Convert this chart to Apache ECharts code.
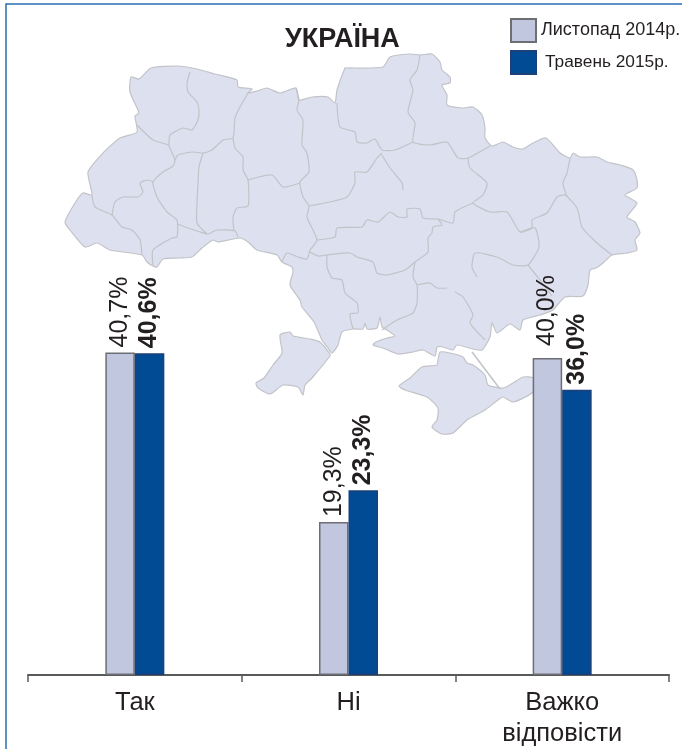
<!DOCTYPE html>
<html>
<head>
<meta charset="utf-8">
<style>
  html, body { margin: 0; padding: 0; background: #fff; }
  #chart { width: 682px; height: 749px; }
</style>
<script src="https://cdn.jsdelivr.net/npm/echarts@6/dist/echarts.min.js"></script>
</head>
<body>
<div id="chart"></div>
<script>
var categories = ['Так', 'Ні', 'Важко\nвідповісти'];
var nov2014 = [40.7, 19.3, 40.0];
var may2015 = [40.6, 23.3, 36.0];
var seriesNames = ['Листопад 2014р.', 'Травень 2015р.'];

// background map of Ukraine (page pixels)
var mapOutline = [[65,222],[75,203],[83,193],[92,195],[88,172],[103,153],[120,138],[137,132],[135,116],[139,113],[130,92],[131,77],[139,79],[151,68],[177,66],[197,69],[215,74],[237,80],[238,87],[252,89],[248,93],[257,91],[267,88],[280,93],[296,88],[299,100],[312,97],[328,97],[335,103],[337,90],[345,68],[347,68],[383,67],[390,57],[410,54],[420,55],[432,54],[440,62],[442,70],[450,77],[450,83],[442,85],[447,95],[447,105],[462,108],[473,107],[482,115],[485,128],[485,138],[492,146],[503,142],[513,147],[523,149],[533,143],[546,138],[560,153],[570,158],[573,153],[580,157],[597,157],[607,162],[620,165],[633,170],[637,180],[637,188],[625,195],[637,203],[627,217],[635,222],[640,233],[635,240],[637,250],[627,253],[612,255],[603,263],[596,268],[590,270],[588,285],[583,296],[565,297],[553,310],[540,315],[523,320],[520,330],[510,324],[497,333],[492,323],[490,337],[482,350],[473,349],[457,345],[453,350],[443,347],[437,347],[435,356],[423,350],[413,352],[398,354],[383,348],[373,345],[376,342],[387,338],[395,336],[387,330],[382,327],[380,317],[377,328],[367,329],[365,323],[363,329],[353,329],[342,332],[338,345],[332,353],[328,348],[322,340],[314,322],[302,307],[300,300],[290,285],[293,272],[292,267],[282,262],[277,255],[257,250],[248,242],[240,238],[218,242],[213,240],[202,248],[192,257],[180,258],[163,259],[157,267],[153,266],[147,262],[142,255],[110,250],[97,243],[85,247],[70,230]];
var mapBudjak = [[330,354],[320,342],[310,339],[293,336],[290,332],[280,335],[282,353],[273,365],[264,378],[256,383],[258,388],[270,394],[283,385],[298,387],[303,395],[305,385],[312,378],[330,356]];
var mapCrimea = [[438,360],[437,365],[422,367],[410,378],[399,386],[405,390],[427,397],[438,408],[437,420],[432,427],[442,434],[453,433],[467,420],[485,410],[498,400],[503,397],[513,402],[533,392],[533,378],[523,377],[513,383],[503,388],[488,385],[485,375],[473,365],[467,363],[463,357],[450,353],[440,352]];
var mapSpit = [[472,352],[500,389]];
var mapBorders = [
  [[137,125],[153,140],[168,145],[172,153],[175,160],[173,166],[163,172],[153,182],[157,197],[167,212],[177,220],[177,237],[172,238],[153,250],[153,265]],
  [[190,72],[187,83],[188,92],[197,102],[199,110],[198,120],[192,130],[183,128],[170,135],[169,145]],
  [[248,93],[240,107],[235,118],[233,138],[223,140],[212,150],[203,153],[193,152],[178,155],[175,160]],
  [[203,153],[199,167],[198,183],[197,203],[197,223],[207,234]],
  [[233,138],[235,148],[243,157],[243,170],[248,180],[248,206],[237,208],[233,217],[234,231]],
  [[177,224],[200,232],[208,234],[217,230],[235,231],[238,237]],
  [[92,195],[95,207],[112,215],[122,227],[132,230],[140,240],[142,255]],
  [[112,215],[115,202],[123,197],[138,197],[143,192],[140,183],[148,180],[153,182]],
  [[296,88],[299,100],[297,110],[303,120],[302,145],[307,153],[309,172],[300,182],[303,197],[309,206],[307,217],[317,240],[310,250],[307,259],[298,257],[287,253],[282,262]],
  [[248,180],[272,175],[283,187],[300,183]],
  [[309,206],[330,202],[347,197],[355,183],[355,172],[367,172],[377,158],[382,153]],
  [[337,103],[340,127],[355,132],[357,142],[367,143],[375,139],[382,150],[395,150],[413,142]],
  [[420,55],[417,70],[410,80],[413,90],[408,112],[415,123],[413,142],[430,145],[447,142],[458,158],[468,158],[490,146]],
  [[468,158],[470,168],[487,183],[483,195],[473,203],[490,212],[507,212],[520,232],[532,228],[532,220],[547,213],[557,197],[565,195],[577,208],[582,227],[597,243],[612,255]],
  [[570,158],[567,173],[563,183],[567,197]],
  [[382,155],[390,168],[402,183],[403,190]],
  [[317,240],[335,237],[337,228],[362,227],[367,220],[378,222],[390,212],[398,217],[407,217],[407,209],[420,209],[423,218],[438,219],[453,223],[455,212],[473,203]],
  [[438,219],[442,225],[433,227],[432,233],[428,238],[428,252],[415,262],[405,270],[387,275],[377,273],[373,262],[357,257],[350,253],[327,255],[318,256],[310,252]],
  [[327,255],[327,267],[332,278],[342,280],[345,293],[357,303],[358,313],[350,314],[353,329]],
  [[415,262],[413,277],[417,285],[417,303],[413,313],[397,320],[382,330]],
  [[417,285],[430,283],[437,288],[447,288]],
  [[455,292],[463,297],[473,315],[470,323],[485,340]],
  [[520,232],[535,228],[539,247],[528,265],[513,265],[497,257],[475,253],[472,267],[477,277]],
  [[528,265],[540,280],[552,296]]
];

var TEXT = '#231f20';
var LIGHT = '#c2c7e0';
var DARK = '#004b93';
var MAP_FILL = '#dde0ee';
var MAP_LINE = '#c2c3c9';

function mapGraphics() {
  var items = [];
  var shapes = [mapOutline, mapBudjak, mapCrimea];
  for (var i = 0; i < shapes.length; i++) {
    items.push({
      type: 'polygon',
      z: 0,
      shape: { points: shapes[i], smooth: 0.2 },
      style: { fill: MAP_FILL, stroke: MAP_LINE, lineWidth: 1.2 }
    });
  }
  for (var j = 0; j < mapBorders.length; j++) {
    items.push({
      type: 'polyline',
      z: 0,
      shape: { points: mapBorders[j], smooth: 0.2 },
      style: { fill: null, stroke: MAP_LINE, lineWidth: 1.2 }
    });
  }
  items.push({
    type: 'polyline',
    z: 0,
    shape: { points: mapSpit },
    style: { fill: null, stroke: MAP_LINE, lineWidth: 1.5 }
  });
  // blue frame, top and left only
  items.push({
    type: 'polyline',
    z: 1,
    shape: { points: [[6, 749], [6, 4], [682, 4]] },
    style: { fill: null, stroke: '#2a6db0', lineWidth: 1.5 }
  });
  return items;
}

function valueLabel(p) {
  return p.value.toFixed(1).replace('.', ',') + '%';
}

function barSeries(name, data, color, border, weight) {
  return {
    name: name,
    type: 'bar',
    data: data,
    barWidth: 29.5,
    barGap: 0,
    itemStyle: { color: color, borderColor: border, borderWidth: 1.5 },
    label: {
      show: true,
      position: 'top',
      distance: 5,
      rotate: 90,
      align: 'left',
      verticalAlign: 'middle',
      formatter: valueLabel,
      fontFamily: 'Liberation Sans',
      fontSize: 25,
      fontWeight: weight,
      color: TEXT
    }
  };
}

function legendFor(name, top, pad, size) {
  return {
    data: [name],
    left: 510,
    top: top,
    padding: 0,
    icon: 'rect',
    itemWidth: 25,
    itemHeight: 23,
    selectedMode: false,
    textStyle: {
      fontFamily: 'Liberation Sans',
      fontSize: size,
      color: TEXT,
      padding: [0, 0, 0, pad]
    }
  };
}

var lightBars = barSeries(seriesNames[0], nov2014, LIGHT, '#6d6e74', 'normal');
// the last label in the picture sits further off its bar
lightBars.data = nov2014.map(function(v, i) {
  return i == 2 ? { value: v, label: { distance: 12 } } : v;
});

var chart = echarts.init(document.getElementById('chart'), null, { renderer: 'canvas' });
chart.setOption({
  animation: false,
  backgroundColor: '#fff',
  title: {
    text: 'УКРАЇНА',
    left: 285,
    top: 26,
    padding: 0,
    textStyle: { fontFamily: 'Liberation Sans', fontSize: 27, fontWeight: 'bold', color: TEXT }
  },
  legend: [legendFor(seriesNames[0], 18, 0, 18), legendFor(seriesNames[1], 50, 4, 17.3)],
  graphic: mapGraphics(),
  grid: { left: 28, top: 41, width: 641, height: 635 },
  xAxis: {
    type: 'category',
    data: categories,
    axisLine: { lineStyle: { color: '#58595b', width: 2 } },
    axisTick: { show: true, length: 7, lineStyle: { color: '#58595b', width: 1.5 } },
    axisLabel: {
      margin: 12,
      fontFamily: 'Liberation Sans',
      fontSize: 25.5,
      lineHeight: 31,
      color: TEXT
    }
  },
  yAxis: { type: 'value', min: 0, max: 80, show: false },
  series: [
    lightBars,
    barSeries(seriesNames[1], may2015, DARK, '#1d3f7a', 'bold')
  ]
});
</script>
</body>
</html>
